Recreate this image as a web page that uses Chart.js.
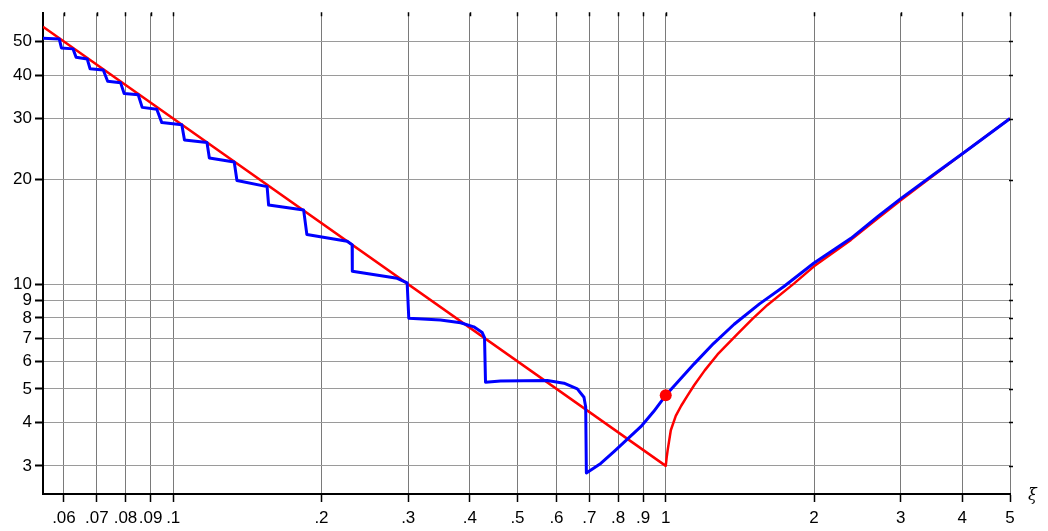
<!DOCTYPE html>
<html>
<head>
<meta charset="utf-8">
<script src="https://cdn.jsdelivr.net/npm/chart.js"></script>
<style>
  body { margin: 0; background: #fff; }
  canvas { display: block; }
</style>
</head>
<body>
<canvas id="chart" width="1048" height="531"></canvas>
<script>
// axis ticks
const xTicks = [0.06, 0.07, 0.08, 0.09, 0.1, 0.2, 0.3, 0.4, 0.5, 0.6, 0.7, 0.8, 0.9, 1, 2, 3, 4, 5];
const xTickLabels = ['.06', '.07', '.08', '.09', '.1', '.2', '.3', '.4', '.5', '.6', '.7', '.8', '.9', '1', '2', '3', '4', '5'];
const yTicks = [3, 4, 5, 6, 7, 8, 9, 10, 20, 30, 40, 50];

// red curve
const redX = [0.0544, 1, 1.004, 1.009, 1.024, 1.048, 1.075, 1.107, 1.142, 1.2, 1.274, 1.399, 1.5, 1.609, 1.823, 2.0, 2.377, 2.7, 3.0, 3.5, 4.04, 5];
const redY = [55.1, 3.0, 3.16, 3.33, 3.80, 4.18, 4.47, 4.78, 5.12, 5.65, 6.28, 7.20, 7.95, 8.72, 10.06, 11.26, 13.42, 15.5, 17.46, 20.6, 23.99, 30.0];

// blue curve
const blueX = [0.0544, 0.0587, 0.0593, 0.0626, 0.0635, 0.0669, 0.0678, 0.0721, 0.0736, 0.0782, 0.0795, 0.0849, 0.0865, 0.0926,
  0.0948, 0.1041, 0.1054, 0.1171, 0.1184, 0.1330, 0.1347, 0.1551, 0.1562, 0.1840, 0.1868, 0.2255, 0.2308, 0.2310, 0.2849,
  0.2985, 0.3008, 0.3488, 0.3832, 0.4077, 0.4240, 0.4286, 0.4306, 0.4621, 0.5747, 0.6214, 0.6614, 0.6823, 0.6878, 0.690,
  0.738, 0.785, 0.890, 0.945, 1.0, 1.142, 1.25, 1.377, 1.55, 1.740, 2.0, 2.377, 2.7, 3.0, 3.5, 4.04, 5];
const blueY = [51.1, 50.8, 47.9, 47.6, 45.0, 44.5, 41.7, 41.4, 38.4, 38.0, 35.4, 35.1, 32.3, 31.9,
  29.2, 28.8, 26.0, 25.6, 23.1, 22.5, 19.9, 19.1, 16.9, 16.35, 13.9, 13.3, 13.0, 10.9, 10.4,
  10.1, 7.98, 7.89, 7.75, 7.54, 7.26, 7.02, 5.22, 5.27, 5.28, 5.19, 5.0, 4.73, 4.43, 2.86,
  3.05, 3.30, 3.89, 4.30, 4.79, 5.90, 6.75, 7.67, 8.78, 9.87, 11.51, 13.56, 15.7, 17.64, 20.7, 23.99, 30.0];

// red dot
const dotX = [1];
const dotY = [4.79];

const toPoints = (xs, ys) => xs.map((x, i) => ({ x: x, y: ys[i] }));
const labelFont = { family: '"Liberation Sans", Arial, sans-serif', size: 17 };

// small marks on top/right edges and the xi label
const edgeMarks = {
  id: 'edgeMarks',
  afterDraw(chart) {
    const { ctx, chartArea, scales } = chart;
    ctx.save();
    ctx.strokeStyle = '#000';
    ctx.lineWidth = 1.5;
    ctx.beginPath();
    xTicks.forEach(v => {
      const px = Math.round(scales.x.getPixelForValue(v)) + 0.5;
      ctx.moveTo(px, chartArea.top - 1);
      ctx.lineTo(px, chartArea.top + 3);
    });
    yTicks.forEach(v => {
      const py = Math.round(scales.y.getPixelForValue(v)) + 0.5;
      ctx.moveTo(chartArea.right - 1, py);
      ctx.lineTo(chartArea.right + 3, py);
    });
    ctx.stroke();
    ctx.fillStyle = '#000';
    ctx.font = 'italic 16px "DejaVu Serif", serif';
    ctx.textBaseline = 'middle';
    ctx.fillText('ξ', chartArea.right + 18, chartArea.bottom + 2);
    ctx.restore();
  }
};

new Chart(document.getElementById('chart'), {
  type: 'scatter',
  data: {
    datasets: [
      {
        label: 'dot',
        data: toPoints(dotX, dotY),
        showLine: false,
        pointRadius: 6,
        pointBackgroundColor: '#ff0000',
        pointBorderWidth: 0,
        order: 0
      },
      {
        label: 'blue',
        data: toPoints(blueX, blueY),
        showLine: true,
        borderColor: '#0000ff',
        borderWidth: 3,
        borderJoinStyle: 'round',
        pointRadius: 0,
        order: 1
      },
      {
        label: 'red',
        data: toPoints(redX, redY),
        showLine: true,
        borderColor: '#ff0000',
        borderWidth: 2.5,
        borderJoinStyle: 'round',
        pointRadius: 0,
        order: 2
      }
    ]
  },
  options: {
    responsive: false,
    animation: false,
    devicePixelRatio: 1,
    layout: { padding: { top: 11, right: 38, left: 0, bottom: 0 } },
    plugins: {
      legend: { display: false },
      tooltip: { enabled: false }
    },
    scales: {
      x: {
        type: 'logarithmic',
        position: 'bottom',
        min: 0.0544,
        max: 5,
        afterBuildTicks: scale => { scale.ticks = xTicks.map(v => ({ value: v })); },
        afterFit: scale => { scale.height = 37; },
        ticks: {
          autoSkip: false,
          maxRotation: 0,
          minRotation: 0,
          padding: 6,
          color: '#000',
          font: labelFont,
          callback: (value, index) => xTickLabels[index]
        },
        grid: { color: '#7a7a7a', lineWidth: 1, tickLength: 8, tickColor: '#000', tickWidth: 1.5 },
        border: { color: '#000', width: 2 }
      },
      y: {
        type: 'logarithmic',
        position: 'left',
        min: 2.49,
        max: 60.3,
        afterBuildTicks: scale => { scale.ticks = yTicks.map(v => ({ value: v })); },
        afterFit: scale => { scale.width = 43; },
        ticks: {
          padding: 3,
          color: '#000',
          font: labelFont,
          callback: value => String(value)
        },
        grid: { color: '#9a9a9a', lineWidth: 1, tickLength: 8, tickColor: '#000', tickWidth: 2 },
        border: { color: '#000', width: 2 }
      }
    }
  },
  plugins: [edgeMarks]
});
</script>
</body>
</html>
